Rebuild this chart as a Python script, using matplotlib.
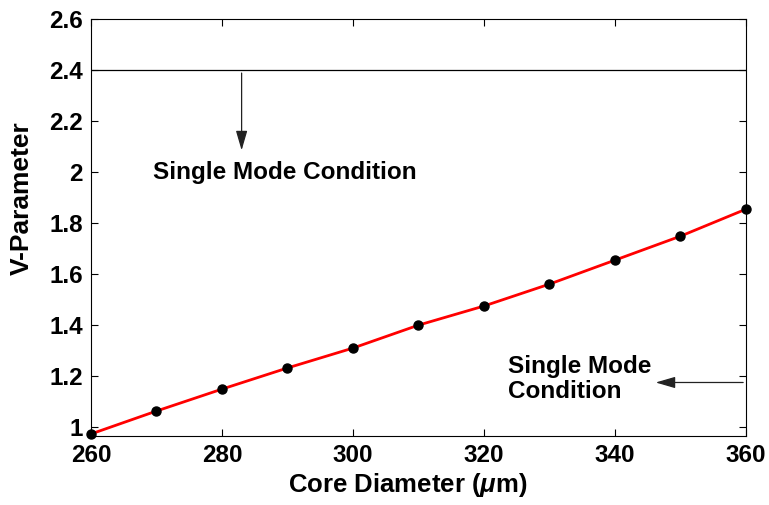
import matplotlib.pyplot as plt

plt.rcParams['font.family'] = ['Liberation Sans', 'DejaVu Sans']
plt.rcParams['font.weight'] = 'bold'
plt.rcParams['mathtext.fontset'] = 'custom'
plt.rcParams['mathtext.it'] = 'Liberation Sans:italic:bold'
plt.rcParams['mathtext.rm'] = 'Liberation Sans:bold'

core_diameter = [260, 270, 280, 290, 300, 310, 320, 330, 340, 350, 360]
v_param = [0.973, 1.063, 1.149, 1.232, 1.310, 1.400, 1.475, 1.561, 1.655, 1.749, 1.855]
cutoff = 2.4

fig = plt.figure(figsize=(7.69, 5.05), dpi=100)
ax = fig.add_axes([0.1183, 0.1366, 0.8517, 0.8252])

ax.axhline(cutoff, color='black', lw=0.9)
ax.plot(core_diameter, v_param, color='red', lw=2, zorder=3)
ax.plot(core_diameter, v_param, 'o', color='black', ms=6.5, zorder=4, clip_on=False)

head = '-|>,head_length=1.2,head_width=0.35'
ax.annotate('', xy=(283, 2.075), xytext=(283, 2.4),
            arrowprops=dict(arrowstyle=head, color='#222222', lw=0.9))
ax.text(269.5, 1.997, 'Single Mode Condition', fontsize=17.5, fontweight='bold', va='center')

ax.annotate('', xy=(345.8, 1.175), xytext=(360, 1.175),
            arrowprops=dict(arrowstyle=head, color='#222222', lw=0.9))
ax.text(323.7, 1.19, 'Single Mode\nCondition', fontsize=17.5, fontweight='bold', va='center',
        linespacing=1.1)

ax.set_xlim(260, 360)
ax.set_ylim(0.965, 2.6)
ax.set_xticks(range(260, 361, 20))
ax.set_yticks([1, 1.2, 1.4, 1.6, 1.8, 2, 2.2, 2.4, 2.6])
ax.set_yticklabels(['1', '1.2', '1.4', '1.6', '1.8', '2', '2.2', '2.4', '2.6'])
ax.tick_params(direction='in', length=5, width=0.8, labelsize=17.5, top=True, right=True, pad=6)
for lab in ax.get_xticklabels() + ax.get_yticklabels():
    lab.set_fontweight('bold')

ax.set_xlabel(r'Core Diameter ($\mu$m)', fontsize=18.5, fontweight='bold')
ax.xaxis.set_label_coords(0.483, -0.085)
ax.set_ylabel('V-Parameter', fontsize=19, fontweight='bold')
ax.yaxis.set_label_coords(-0.088, 0.571)

fig.savefig('out.png', dpi=100)
